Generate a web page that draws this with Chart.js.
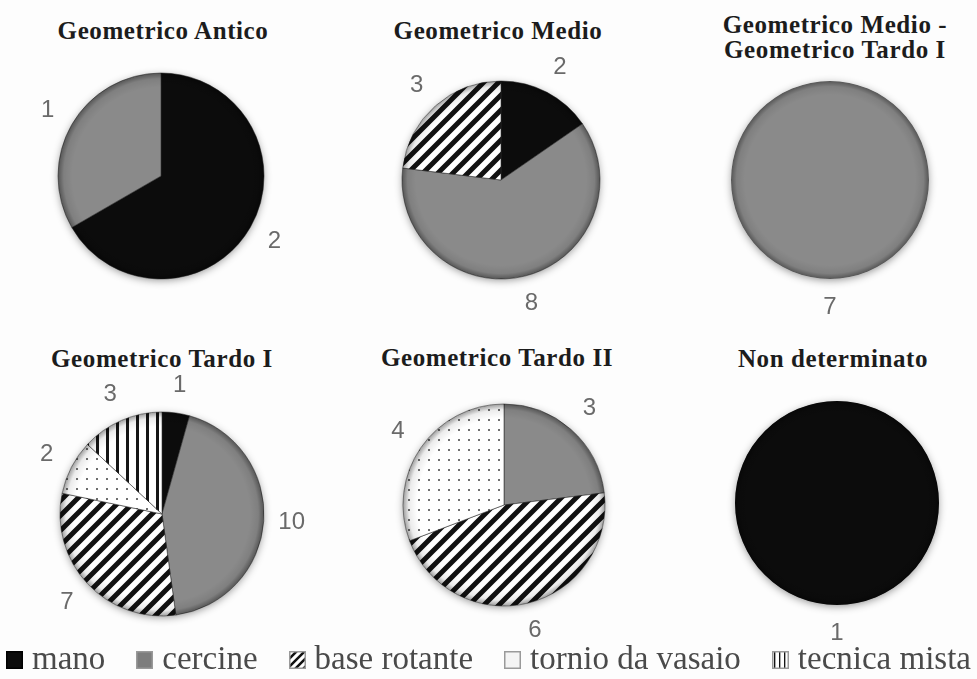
<!DOCTYPE html>
<html><head><meta charset="utf-8">
<script src="https://cdn.jsdelivr.net/npm/chart.js@4.4.1/dist/chart.umd.min.js"></script>
<style>
html,body{margin:0;padding:0;background:#fdfdfd;}
#wrap{position:relative;width:977px;height:679px;overflow:hidden;background:#fdfdfd;}
.cell{position:absolute;width:320px;height:300px;}
.title{position:absolute;transform:translate(-50%,-50%);font-family:"Liberation Serif","Tinos","Times New Roman","DejaVu Serif","Noto Serif",serif;font-weight:bold;font-size:25px;color:#1c1c1c;text-align:center;line-height:25px;white-space:nowrap;letter-spacing:0.6px;}
#legend{position:absolute;left:0;top:636px;width:977px;height:44px;display:flex;justify-content:center;align-items:center;gap:31px;font-family:"Liberation Serif","Tinos","Times New Roman","DejaVu Serif","Noto Serif",serif;font-size:33px;color:#4a4a4a;white-space:nowrap;}
#legend .item{display:flex;align-items:center;margin:0;}
#legend canvas{margin-right:9px;position:relative;top:2px;}
</style>
</head><body>
<div id="wrap"></div>
<script>
// ---- data ----
const categories = ['mano', 'cercine', 'base rotante', 'tornio da vasaio', 'tecnica mista'];
const periods = ['Geometrico Antico', 'Geometrico Medio', ['Geometrico Medio -', 'Geometrico Tardo I'],
                 'Geometrico Tardo I', 'Geometrico Tardo II', 'Non determinato'];
const mano         = [2, 2, 0, 1, 0, 1];
const cercine      = [1, 8, 7, 10, 3, 0];
const baseRotante  = [0, 3, 0, 7, 6, 0];
const tornio       = [0, 0, 0, 2, 4, 0];
const tecnicaMista = [0, 0, 0, 3, 0, 0];
const series = [mano, cercine, baseRotante, tornio, tecnicaMista];

// ---- layout (pie centre, radius, title centre) ----
const layout = [
  {cx:161, cy:176, r:103, tx:163, ty:30},
  {cx:501, cy:180, r:99,  tx:498, ty:30},
  {cx:830, cy:180, r:99,  tx:835, ty:37},
  {cx:162, cy:514, r:102, tx:162, ty:358},
  {cx:504, cy:505, r:101, tx:497, ty:357},
  {cx:837, cy:503, r:102, tx:833, ty:358}
];

// ---- fills ----
function makePattern(kind, s) {
  s = s || 1;
  const c = document.createElement('canvas');
  const x = c.getContext('2d');
  if (kind === 'diag') {
    const t = Math.round(15 * s); c.width = t; c.height = t;
    x.fillStyle = '#ffffff'; x.fillRect(0, 0, t, t);
    x.strokeStyle = '#111111'; x.lineWidth = 5 * s; x.lineCap = 'square';
    x.beginPath();
    x.moveTo(-t, t); x.lineTo(t, -t);
    x.moveTo(0, t); x.lineTo(t, 0);
    x.moveTo(0, 2 * t); x.lineTo(2 * t, 0);
    x.stroke();
  } else if (kind === 'dots') {
    const t = Math.round(10 * s); c.width = t; c.height = t;
    x.fillStyle = '#ffffff'; x.fillRect(0, 0, t, t);
    x.fillStyle = '#6e6e6e';
    x.fillRect(Math.round(t / 2) - 1, Math.round(t / 2) - 1, Math.max(1, 2 * s), Math.max(1, 2 * s));
  } else if (kind === 'vert') {
    const t = Math.round(10 * s); c.width = t; c.height = t;
    x.fillStyle = '#ffffff'; x.fillRect(0, 0, t, t);
    x.fillStyle = '#151515';
    x.fillRect(Math.round(t / 2) - 1, 0, Math.max(1, 3 * s), t);
  }
  return x.createPattern(c, 'repeat');
}
const fills = ['#0c0c0c', '#8a8a8a', makePattern('diag'), makePattern('dots'), makePattern('vert')];

// ---- plugins ----
const shadowPlugin = {
  id: 'shadowPlugin',
  beforeDatasetsDraw(chart) {
    const arc = chart.getDatasetMeta(0).data[0];
    if (!arc) return;
    const {x, y, outerRadius} = arc.getProps(['x', 'y', 'outerRadius'], true);
    const ctx = chart.ctx;
    ctx.save();
    ctx.shadowColor = 'rgba(0,0,0,0.45)';
    ctx.shadowBlur = 9;
    ctx.shadowOffsetY = 2;
    ctx.fillStyle = '#9a9a9a';
    ctx.beginPath(); ctx.arc(x, y, outerRadius - 1, 0, Math.PI * 2); ctx.fill();
    ctx.restore();
  },
  afterDatasetsDraw(chart) {
    const ctx = chart.ctx;
    const meta = chart.getDatasetMeta(0);
    const ds = chart.data.datasets[0];
    meta.data.forEach((arc, i) => {
      const v = ds.data[i];
      if (!v) return;
      const p = arc.getProps(['x', 'y', 'startAngle', 'endAngle', 'outerRadius'], true);
      // rim shading
      ctx.save();
      ctx.beginPath();
      ctx.moveTo(p.x, p.y);
      ctx.arc(p.x, p.y, p.outerRadius, p.startAngle, p.endAngle);
      ctx.closePath();
      ctx.clip();
      const g = ctx.createRadialGradient(p.x, p.y, p.outerRadius * 0.86, p.x, p.y, p.outerRadius);
      g.addColorStop(0, 'rgba(0,0,0,0)');
      g.addColorStop(0.6, 'rgba(0,0,0,0.08)');
      g.addColorStop(1, 'rgba(0,0,0,0.38)');
      ctx.fillStyle = g;
      ctx.beginPath(); ctx.arc(p.x, p.y, p.outerRadius, 0, Math.PI * 2); ctx.fill();
      ctx.restore();
      // value label outside the slice
      const mid = (p.startAngle + p.endAngle) / 2;
      const d = p.outerRadius + 28;
      ctx.save();
      ctx.font = '24px "Liberation Sans", sans-serif';
      ctx.fillStyle = '#6a6a6a';
      ctx.textAlign = 'center';
      ctx.textBaseline = 'middle';
      ctx.fillText(String(v), p.x + Math.cos(mid) * d, p.y + Math.sin(mid) * d);
      ctx.restore();
    });
  }
};

// ---- build charts ----
const wrap = document.getElementById('wrap');
periods.forEach((title, k) => {
  const L = layout[k];
  const t = document.createElement('div');
  t.className = 'title';
  t.style.left = L.tx + 'px';
  t.style.top = L.ty + 'px';
  t.innerHTML = Array.isArray(title) ? title.join('<br>') : title;
  wrap.appendChild(t);

  const cell = document.createElement('div');
  cell.className = 'cell';
  cell.style.left = (L.cx - 160) + 'px';
  cell.style.top = (L.cy - 150) + 'px';
  const cv = document.createElement('canvas');
  cv.width = 320; cv.height = 300;
  cell.appendChild(cv);
  wrap.appendChild(cell);

  const vals = series.map(s => s[k]);
  const total = vals.reduce((a, b) => a + b, 0);
  new Chart(cv, {
    type: 'pie',
    data: {
      labels: categories,
      datasets: [{
        data: vals,
        backgroundColor: fills,
        borderColor: 'rgba(40,40,40,0.55)',
        borderWidth: c => (c.raw && c.raw !== total ? 1 : 0),
        radius: L.r
      }]
    },
    options: {
      responsive: false,
      animation: false,
      events: [],
      layout: {padding: 0},
      plugins: {legend: {display: false}, tooltip: {enabled: false}, title: {display: false}}
    },
    plugins: [shadowPlugin]
  });
});

// ---- legend ----
const legend = document.createElement('div');
legend.id = 'legend';
categories.forEach((name, i) => {
  const it = document.createElement('div');
  it.className = 'item';
  const sw = document.createElement('canvas');
  sw.width = 17; sw.height = 18;
  const x = sw.getContext('2d');
  const swFill = [ '#0c0c0c', '#7d7d7d', makePattern('diag', 0.5), '#f4f4f4', makePattern('vert', 0.45) ][i];
  x.fillStyle = swFill; x.fillRect(0, 0, 17, 18);
  x.strokeStyle = i === 0 ? '#000' : '#9a9a9a'; x.lineWidth = 1.5; x.strokeRect(0.75, 0.75, 15.5, 16.5);
  it.appendChild(sw);
  const s = document.createElement('span');
  s.textContent = name;
  it.appendChild(s);
  legend.appendChild(it);
});
wrap.appendChild(legend);
</script>
</body></html>
